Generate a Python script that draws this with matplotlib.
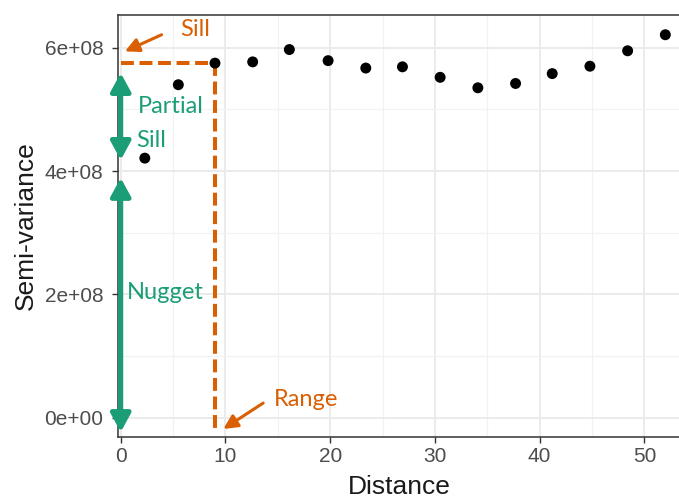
import numpy as np
import matplotlib
matplotlib.use("Agg")
import matplotlib.pyplot as plt
from matplotlib.ticker import MultipleLocator, FixedLocator

dist = [2.3, 5.5, 9.0, 12.6, 16.1, 19.8, 23.4, 26.9, 30.5, 34.1, 37.7, 41.2, 44.8, 48.4, 52.0]
gamma = [4.21e8, 5.40e8, 5.75e8, 5.77e8, 5.97e8, 5.79e8, 5.67e8, 5.69e8,
         5.52e8, 5.35e8, 5.42e8, 5.58e8, 5.70e8, 5.95e8, 6.21e8]

sill = 5.75e8
rng = 9.0
nugget_top = 3.89e8
partial_top = 5.59e8
partial_bot = 4.18e8

yticks = [0, 2e8, 4e8, 6e8]
ytick_labels = ["0e+00", "2e+08", "4e+08", "6e+08"]
xticks = [0, 10, 20, 30, 40, 50]

green = "#1B9E77"
orange = "#D95F02"
note_font = ["Lato", "DejaVu Sans"]

plt.rcParams['font.family'] = ['Liberation Sans', 'DejaVu Sans']

fig = plt.figure(figsize=(6.79, 5.0), dpi=100)
ax = fig.add_axes([118/679, 63/500, 1.003 - 118/679, 422/500])

ax.set_xlim(-0.26, 53.5)
ax.set_ylim(-0.31e8, 6.53e8)

ax.scatter(dist, gamma, s=62, color="black", zorder=4, edgecolors="none")

# grid like theme_bw
ax.set_xticks(xticks)
ax.xaxis.set_minor_locator(MultipleLocator(5))
ax.set_yticks(yticks)
ax.set_yticklabels(ytick_labels)
ax.yaxis.set_minor_locator(FixedLocator([1e8, 3e8, 5e8]))
ax.grid(which="major", color="#EBEBEB", lw=1.4, zorder=0)
ax.grid(which="minor", color="#F2F2F2", lw=0.9, zorder=0)
ax.set_axisbelow(True)
ax.tick_params(which="minor", length=0)
ax.tick_params(which="major", length=4, width=1, color="#333333",
               labelcolor="#4D4D4D", labelsize=15)
ax.tick_params(axis="y", pad=6.5)
ax.tick_params(axis="x", pad=3.5)
for s in ax.spines.values():
    s.set_color("#333333")
    s.set_linewidth(1.1)

ax.set_xlabel("Distance", fontsize=19, labelpad=6.5, color="#1A1A1A")
ax.set_ylabel("Semi-variance", fontsize=19, labelpad=5, color="#1A1A1A")

# sill / range dashed guides
ax.plot([0, rng], [sill, sill], color=orange, lw=2.9, ls=(0, (3.2, 1.4)), zorder=3)
ax.plot([rng, rng], [sill, -0.2e8], color=orange, lw=2.9, ls=(0, (3.2, 1.4)), zorder=3)

# green double arrows
arr = dict(arrowstyle="<|-|>,head_length=1.1,head_width=0.6", lw=3.6,
           color=green, shrinkA=0, shrinkB=0, mutation_scale=10)
ax.annotate("", xy=(0, partial_bot), xytext=(0, partial_top), arrowprops=arr,
            annotation_clip=False, zorder=5)
ax.annotate("", xy=(0, -0.23e8), xytext=(0, nugget_top), arrowprops=arr,
            annotation_clip=False, zorder=5)

ax.text(1.6, 5.05e8, "Partial", color=green, fontsize=17, family=note_font,
        ha="left", va="center")
ax.text(1.5, 4.5e8, "Sill", color=green, fontsize=17, family=note_font,
        ha="left", va="center")
ax.text(0.55, 2.04e8, "Nugget", color=green, fontsize=17, family=note_font,
        ha="left", va="center")

# orange labels with arrows
oarr = dict(arrowstyle="-|>,head_length=0.6,head_width=0.3", lw=2.2,
            color=orange, shrinkA=0, shrinkB=0, mutation_scale=14)
ax.annotate("", xy=(0.4, 5.94e8), xytext=(3.9, 6.21e8), arrowprops=oarr,
            annotation_clip=False)
ax.text(7.1, 6.3e8, "Sill", color=orange, fontsize=17, family=note_font,
        ha="center", va="center")
ax.annotate("", xy=(9.8, -0.18e8), xytext=(13.6, 0.24e8), arrowprops=oarr,
            annotation_clip=False)
ax.text(17.7, 0.3e8, "Range", color=orange, fontsize=17, family=note_font,
        ha="center", va="center")

fig.savefig("out.png", dpi=100)
